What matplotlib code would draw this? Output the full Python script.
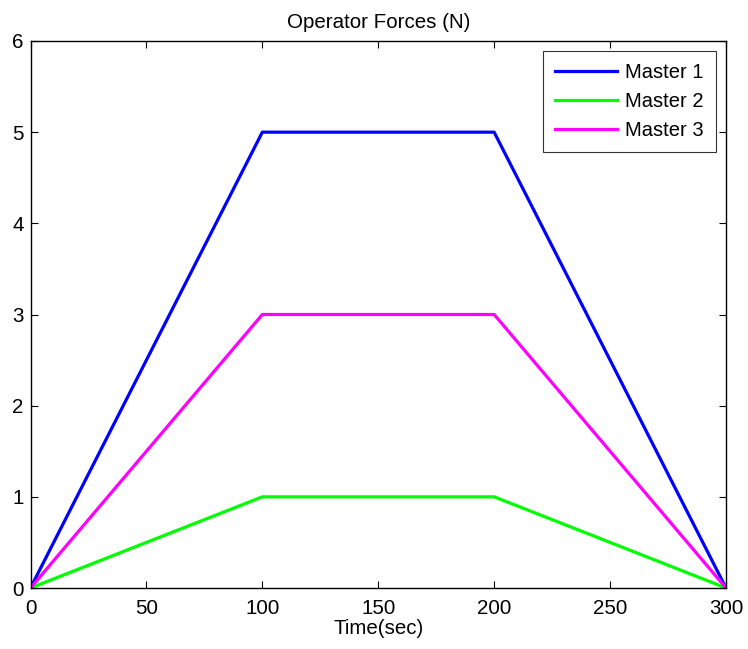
import matplotlib
matplotlib.use("Agg")
import matplotlib.pyplot as plt

time = [0, 100, 200, 300]
master1 = [0, 5, 5, 0]
master2 = [0, 1, 1, 0]
master3 = [0, 3, 3, 0]
xticks = [0, 50, 100, 150, 200, 250, 300]
yticks = [0, 1, 2, 3, 4, 5, 6]

plt.rcParams['font.family'] = ['Liberation Sans', 'DejaVu Sans']
fig = plt.figure(figsize=(7.48, 6.49), dpi=100)
ax = fig.add_axes([30.5/748, 1-588/649, (726-30.5)/748, (588-41)/649])
ax.plot(time, master1, color='#0000ff', lw=2.3, label='Master 1')
ax.plot(time, master2, color='#00ff00', lw=2.3, label='Master 2')
ax.plot(time, master3, color='#ff00ff', lw=2.3, label='Master 3')
ax.set_xlim(0, 300)
ax.set_ylim(0, 6)
ax.set_xticks(xticks)
ax.set_yticks(yticks)
ax.tick_params(direction='in', top=True, right=True, labelsize=14.8, length=5, width=0.8, pad=8)
ax.tick_params(axis='y', pad=5)
for s in ax.spines.values():
    s.set_linewidth(1)
ax.set_xlabel('Time(sec)', fontsize=14.8, labelpad=1)
ax.set_title('Operator Forces (N)', fontsize=14.8, pad=9)
leg = ax.legend(loc='upper right', fontsize=14.5, frameon=True, fancybox=False,
                edgecolor='black', handlelength=3.1, borderaxespad=0.5,
                labelspacing=0.5, handletextpad=0.4, borderpad=0.6)
leg.get_frame().set_linewidth(0.8)
fig.savefig('out.png', dpi=100)
